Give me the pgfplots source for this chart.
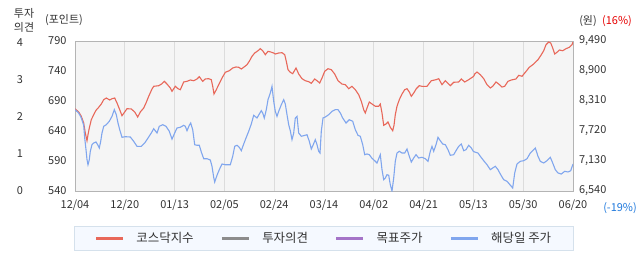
\documentclass[border=0pt]{standalone}
\usepackage{pgfplots}
\pgfplotsset{compat=1.18}
\usepackage{fontspec}
\setmainfont{Noto Sans CJK KR}
\definecolor{kred}{HTML}{E8685A}
\definecolor{kblue}{HTML}{80A6EE}
\definecolor{kgray}{HTML}{8C8C8C}
\definecolor{kpurple}{HTML}{A474C8}
\definecolor{bgc}{HTML}{F5F5F5}
\definecolor{framec}{HTML}{B4B4B4}
\definecolor{gridc}{HTML}{DCDCDC}
\definecolor{legbg}{HTML}{F5F9FF}
\definecolor{legfr}{HTML}{D5E1EC}
\definecolor{pred}{HTML}{E60000}
\definecolor{pblue}{HTML}{1E78DC}
\definecolor{txt}{HTML}{333333}
\pgfplotsset{
  base/.style={scale only axis, width=498bp, height=150bp,
    at={(75bp,-191bp)}, anchor=south west,
    xmin=0, xmax=498,
    xtick={0,49.8,99.6,149.4,199.2,249,298.8,348.6,398.4,448.2,498},
    major tick length=0pt, tick style={draw=none},
    ticklabel style={font=\fontsize{11}{13}\selectfont, text=txt}},
}
\begin{document}
\begin{tikzpicture}[font=\fontsize{11}{14}\selectfont]
\useasboundingbox (0,0) rectangle (642bp,-268bp);
\node[align=center, inner sep=0, text=txt] at (24bp,-20bp) {투자\\의견};
\node[inner sep=0, text=txt] at (64bp,-20bp) {(포인트)};
\node[inner sep=0, text=txt] at (588bp,-21bp) {(원)};
\node[inner sep=0, text=pred] at (617bp,-21bp) {(16\%)};
\node[inner sep=0, text=pblue] at (620bp,-208bp) {(-19\%)};

\begin{axis}[base, ymin=540, ymax=790,
  ytick={540,590,640,690,740,790},
  yticklabels={540,590,640,690,740,790},
  xticklabels={12/04,12/20,01/13,02/05,02/24,03/14,04/02,04/21,05/13,05/30,06/20},
  xmajorgrids, grid style={gridc, line width=0.8bp},
  axis background/.style={fill=bgc},
  axis line style={framec, line width=1bp},
  yticklabel style={xshift=-5bp},
  xticklabel style={yshift=-5bp}]
\addplot[kred, line width=1.1bp] coordinates {
(0,677) (3.7,671.7) (6.3,664.5) (8.7,653.3) (10.3,636.7) (12,623.8) (13,633.8) (14.3,645) (16.3,658.8) (18.7,667.2) (21,674.5) (23.7,679.5) (26.3,685) (28.7,692.2) (31.3,695) (34.7,691.7) (37,693.8) (39.7,695) (42,686.7) (44.7,675.5) (47,665.5) (49.7,671.7) (52,677.2) (56.3,676.7) (59.7,671.7) (62.7,663.3) (65.3,671.7) (68.7,678.3) (71,686.7) (73.7,697.8) (77,710) (78.7,714.5) (83.7,715.5) (87,718.8) (89.3,722.8) (92,718.3) (95.3,711.7) (97,706.2) (100.3,714.5) (103,710.5) (105.3,708.8) (108.7,721.7) (112,722.8) (115.3,725) (118.7,723.8) (122,726.7) (124.3,730.5) (127.7,722.8) (130.3,726.7) (133.7,727.2) (136.3,725.5) (137.7,714.5) (139,701.7) (141.3,708.8) (143.7,717.2) (147,728.3) (150.3,737.8) (154.3,740.5) (157.7,745) (161,746.7) (163.7,746.2) (166.3,743.3) (168.7,746.2) (172,750.5) (174.3,756.2) (177,764.5) (179.7,770) (183,773.8) (185.3,777.2) (187.7,773.8) (190.3,767.2) (193,772.8) (195.7,771.7) (198.7,770) (200.3,768.3) (203.7,770) (207,770.5) (209.7,767.2) (211.3,756.2) (213,742.2) (215.3,737.8) (217.7,735.5) (221,745) (223.7,735) (227,727.2) (230.3,723.8) (233.7,722.2) (236.3,719.5) (239.7,726.7) (242,723.8) (244.7,720) (247,728.3) (249.7,739.5) (253,743.8) (256.3,742.2) (259.7,735) (263,723.8) (267,718.3) (270.3,717.2) (273.7,710.5) (277,714.5) (280.3,708.8) (283.7,700.5) (286.3,689.5) (288.7,675.5) (290.3,670) (292,678.3) (294.3,688.3) (297,685) (300.3,681.2) (303.7,681.2) (305.3,685) (307,670) (308.7,649.5) (311,651.7) (313,655) (315.3,646.2) (317.7,640.5) (319,649.5) (320.3,667.2) (322,681.2) (324.3,692.2) (327,701.7) (329.7,708.8) (332,710.5) (334.3,705) (336.3,697.8) (338.7,703.3) (341.3,710.5) (344.3,715.5) (347,714.5) (352,714.5) (356.3,723.8) (361,725.5) (363.7,727.2) (367,717.2) (370.3,723.8) (375.3,715.5) (378.7,721.2) (383.7,721.7) (386.3,726.7) (389.7,721.7) (393.7,725.5) (398.7,731.2) (399.7,735) (402,738.3) (405.3,733.8) (408.7,727.2) (412,717.2) (415.3,711.7) (417.7,714.5) (421,721.7) (423.7,718.3) (427,713.3) (429.7,714.5) (433,722.8) (436.3,725) (441,726.7) (443.7,732.8) (447,731.2) (450.3,737.8) (454.3,746.2) (458.7,751.7) (463,758.8) (466.3,767.2) (468.7,773.8) (471,783.8) (473.7,788.3) (475.7,786.7) (477.7,778.3) (479.7,768.3) (482.3,771.7) (484.3,775) (487.7,773.8) (491,777.2) (494.3,779.5) (497,783.8) (498,788.3)
};
\end{axis}

\begin{axis}[base, ymin=6540, ymax=9490,
  hide x axis, axis y line*=right, axis line style={draw=none},
  ytick={6540,7130,7720,8310,8900,9490},
  yticklabels={{6,540},{7,130},{7,720},{8,310},{8,900},{9,490}},
  yticklabel style={xshift=2.5bp},
  legend columns=4,
  legend image code/.code={\draw[#1,line width=2.6bp] (0bp,0bp) -- (27bp,0bp);},
  legend style={at={(0.5,0)}, anchor=north, yshift=-34.6bp,
    fill=legbg, draw=legfr, line width=1bp, text=txt,
    font=\fontsize{12.5}{14}\selectfont,
    inner xsep=20bp, inner ysep=4.5bp,
    /tikz/every odd column/.append style={column sep=10bp},
    /tikz/every even column/.append style={column sep=25bp}}]
\addlegendimage{kred}\addlegendentry{코스닥지수}
\addlegendimage{kgray}\addlegendentry{투자의견}
\addlegendimage{kpurple}\addlegendentry{목표주가}
\addplot[kblue, line width=1.1bp] coordinates {
(0,8139) (3.7,8074) (6.3,7976) (8.7,7832) (9.7,7582) (11,7352) (12,7156) (13,7057) (14.3,7156) (15.3,7321) (17,7451) (18.7,7484) (21,7504) (23,7439) (24.3,7386) (25.7,7517) (27,7681) (28.7,7812) (31.3,7844) (34.3,7911) (37,8009) (39.3,8139) (41.3,8041) (43,7877) (44.7,7746) (47,7596) (50.3,7608) (55.3,7602) (58.7,7517) (62,7419) (66.3,7419) (69.7,7484) (73,7582) (76.3,7681) (78.7,7765) (82,7681) (84.3,7812) (87.7,7844) (91,7812) (94.3,7714) (97,7560) (99.7,7681) (102,7779) (105.3,7793) (108.7,7832) (110.3,7812) (112,7726) (114.3,7832) (115.7,7877) (117.7,7746) (119.7,7451) (122,7439) (124.3,7439) (126.3,7307) (128.7,7175) (132,7175) (135.3,7150) (137,7026) (138.7,6809) (139.7,6717) (142,6849) (144.3,6959) (147,7071) (150.3,7057) (155.3,7057) (157.7,7222) (159.7,7419) (162,7439) (164.3,7399) (166.3,7333) (168.7,7464) (171,7582) (173.7,7714) (176.3,7858) (178.7,8029) (182,7976) (184.3,8054) (186.3,8119) (187.7,8074) (189.3,7976) (191.3,8139) (193,8336) (195.3,8467) (197,8599) (198.7,8304) (200.3,8107) (202,8009) (203.7,8107) (206.3,8237) (208.7,8336) (210.3,8251) (212,8041) (213.7,7844) (215.3,7726) (217,7549) (218.7,7681) (220.3,7976) (222,8009) (223.7,7681) (226.3,7616) (228.7,7628) (232,7647) (234.3,7517) (236.3,7366) (238,7439) (240.3,7549) (242,7451) (243.7,7321) (245,7287) (246.3,7714) (248,7976) (250.3,7995) (253.7,8041) (257,8107) (260.3,8139) (263,8139) (265.3,8074) (267.7,7976) (271,7877) (274.3,7942) (277.7,7911) (280.3,7746) (283,7635) (285.3,7616) (287.7,7451) (289.7,7254) (292,7268) (294.3,7254) (297,7183) (299.7,7136) (302,7091) (303.7,7175) (305.3,7254) (307,6959) (308.7,6762) (310.3,6796) (312,6861) (313.7,6849) (315.3,6664) (317,6540) (318.7,6796) (320.3,7124) (322,7287) (324.3,7321) (327,7287) (329.7,7287) (332,7366) (334.3,7222) (336.3,7110) (338.7,7189) (341,7254) (343.7,7189) (347,7203) (350.3,7175) (353,7124) (355.3,7321) (357,7419) (358.7,7321) (361,7451) (363,7596) (365.3,7529) (367.7,7464) (370.3,7451) (373,7352) (375.3,7242) (378.7,7254) (381,7333) (383.7,7419) (386.3,7464) (388.7,7333) (391,7352) (393.7,7439) (396.3,7386) (398.3,7320) (399.7,7307) (403,7287) (405.3,7222) (408.7,7136) (412,7057) (415.3,6959) (417.7,6992) (420.3,7026) (423,6959) (425.3,6874) (428.7,6762) (432,6731) (434.3,6678) (436.3,6632) (437.7,6599) (439.7,6894) (442,7071) (445.3,7124) (448.7,7136) (452,7175) (455.3,7287) (457.7,7333) (460.3,7386) (463,7222) (465.3,7124) (468.7,7091) (472,7136) (475.3,7203) (477.7,7091) (480.3,6959) (483,6894) (486.3,6874) (489.7,6927) (493,6914) (495.7,6939) (498,7071)
};
\addlegendentry{해당일 주가}
\end{axis}

\begin{axis}[base, ymin=0, ymax=4.054,
  hide x axis, axis y line*=left, axis line style={draw=none},
  ytick={0,1,2,3,4}, yticklabels={0,1,2,3,4},
  yticklabel style={anchor=center, xshift=-55bp}]
\end{axis}
\end{tikzpicture}
\end{document}
